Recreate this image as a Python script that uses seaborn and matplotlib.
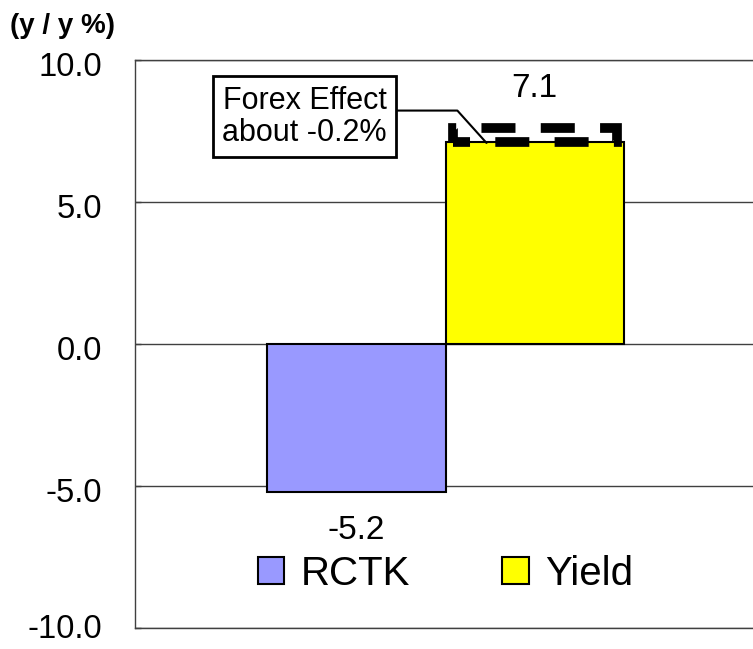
import matplotlib
matplotlib.use("Agg")
import matplotlib.pyplot as plt
import matplotlib.transforms as mtransforms
import seaborn as sns
import pandas as pd

# Werte aus dem Diagramm
categories = ["RCTK", "Yield"]
values = [-5.2, 7.1]
bar_colors = ["#9999FF", "#FFFF00"]
forex_top = 7.6          # obere Kante des gestrichelten Kastens (ohne Währungseffekt)
forex_note = "Forex Effect\nabout -0.2%"
y_ticks = [-10, -5, 0, 5, 10]
y_tick_labels = ["-10.0", "-5.0", "0.0", "5.0", "10.0"]
unit_label = "(y / y %)"

df = pd.DataFrame({"category": categories, "value": values})

sns.set_style("white")
plt.rcParams["font.family"] = ["Liberation Sans", "DejaVu Sans"]
plt.rcParams["text.color"] = "black"
plt.rcParams["ytick.color"] = "#404040"
plt.rcParams["ytick.labelcolor"] = "black"

fig = plt.figure(figsize=(7.53, 6.49), dpi=100)
ax = fig.add_axes([135 / 753, 1 - 628 / 649, (756 - 135) / 753, (628 - 60) / 649])

sns.barplot(data=df, x="category", y="value", hue="category",
            palette=bar_colors, edgecolor="black", linewidth=1.5,
            width=1.0, saturation=1, ax=ax, zorder=3)

# gestrichelter Kasten für den Währungseffekt
yield_idx = categories.index("Yield")
ax.bar(yield_idx, forex_top - values[yield_idx], bottom=values[yield_idx],
       width=0.92, fill=False, edgecolor="black", linewidth=7,
       linestyle=(1.75, (3.5, 2.6)), zorder=4)

# Beschriftung der Balken
for i, v in enumerate(values):
    y = v + 1.9 if v > 0 else v - 1.35
    ax.text(i, y, f"{v:.1f}", ha="center", va="center", fontsize=24)

# Hinweis-Kasten
ax.annotate(forex_note, xy=(0.73, 7.08), xytext=(-0.29, 8.0),
            ha="center", va="center", fontsize=22, linespacing=1.1,
            bbox=dict(boxstyle="square,pad=0.3", fc="white", ec="black", lw=2),
            arrowprops=dict(arrowstyle="-", color="black", lw=1.5,
                            connectionstyle="angle,angleA=0,angleB=132,rad=0",
                            relpos=(1.0, 0.6), shrinkA=0, shrinkB=0),
            zorder=5)

ax.set_xlim(-0.5 - 132 / 178, 1.5 + 132 / 178)
ax.set_ylim(-10, 10)
ax.set_yticks(y_ticks)
ax.set_yticklabels(y_tick_labels, fontsize=23.5)
ax.set_xticks([])
ax.set_xlabel("")
ax.set_ylabel("")
ax.tick_params(axis="y", direction="in", length=4, width=1, pad=24, left=True)
# Beschriftungen leicht nach unten versetzt wie im Original (unterste nicht, sonst abgeschnitten)
shift = mtransforms.ScaledTranslation(0, -4 / 100, fig.dpi_scale_trans)
lift = mtransforms.ScaledTranslation(0, 2 / 100, fig.dpi_scale_trans)
for t, lab in zip(y_ticks, ax.get_yticklabels()):
    lab.set_transform(lab.get_transform() + (lift if t == min(y_ticks) else shift))
ax.yaxis.grid(True, color="#404040", linewidth=1)
ax.set_axisbelow(True)
for side in ["left", "top", "bottom"]:
    ax.spines[side].set_color("#404040")
    ax.spines[side].set_linewidth(1)
ax.spines["right"].set_visible(False)

handles = [plt.Rectangle((0, 0), 1, 1, facecolor=c, edgecolor="black", linewidth=1.5)
           for c in bar_colors]
ax.legend(handles, categories, loc="center", bbox_to_anchor=(0.5, -8.1),
          bbox_transform=ax.transData, ncol=2, frameon=False, fontsize=29,
          handlelength=0.66, handleheight=0.66, handletextpad=0.4,
          columnspacing=2.3)

fig.text(10 / 753, 1 - 26 / 649, unit_label, fontsize=20, fontweight="bold",
         va="center", ha="left")

fig.savefig("out.png", dpi=100)
